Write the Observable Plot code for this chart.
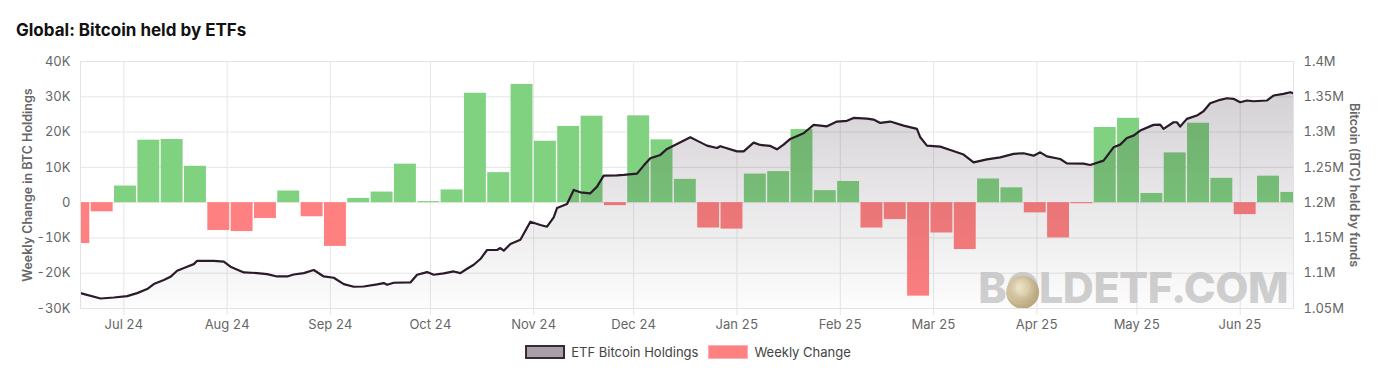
<!DOCTYPE html>
<html>
<head>
<meta charset="utf-8">
<script src="https://cdn.jsdelivr.net/npm/d3@7"></script>
<script src="https://cdn.jsdelivr.net/npm/@observablehq/plot@0.6"></script>
<style>
  body { margin: 0; background: #fff; font-family: Inter, "Noto Sans", sans-serif; }
  #wrap { position: relative; width: 1384px; height: 385px; overflow: hidden; }
  #title { position: absolute; left: 16px; top: 20px; font-size: 17px; line-height: 20px; font-weight: 700; color: #111; }
  #chart { position: absolute; left: 0; top: 45px; }
  #legend { position: absolute; left: 0; top: 344px; width: 1376px; height: 16px; display: flex; justify-content: center; align-items: center; font-size: 13px; color: #444; }
  .item { display: flex; align-items: center; margin: 0 5px; }
  .sw { width: 40px; height: 14px; box-sizing: border-box; margin-right: 6px; }
</style>
</head>
<body>
<div id="wrap">
  <div id="title">Global: Bitcoin held by ETFs</div>
  <div id="chart"></div>
  <div id="legend">
    <div class="item"><div class="sw" style="background:#a89fa8;border:2px solid #3a2a3a"></div><span>ETF Bitcoin Holdings</span></div>
    <div class="item"><div class="sw" style="background:#ff8080;border:1px solid #ffb0b0"></div><span>Weekly Change</span></div>
  </div>
</div>
<script>
// ---- Weekly change in BTC holdings (week starting) ----
const weekStart = [
  "2024-06-14","2024-06-21","2024-06-28","2024-07-05","2024-07-12","2024-07-19","2024-07-26",
  "2024-08-02","2024-08-09","2024-08-16","2024-08-23","2024-08-30","2024-09-06","2024-09-13",
  "2024-09-20","2024-09-27","2024-10-04","2024-10-11","2024-10-18","2024-10-25","2024-11-01",
  "2024-11-08","2024-11-15","2024-11-22","2024-11-29","2024-12-06","2024-12-13","2024-12-20",
  "2024-12-27","2025-01-03","2025-01-10","2025-01-17","2025-01-24","2025-01-31","2025-02-07",
  "2025-02-14","2025-02-21","2025-02-28","2025-03-07","2025-03-14","2025-03-21","2025-03-28",
  "2025-04-04","2025-04-11","2025-04-18","2025-04-25","2025-05-02","2025-05-09","2025-05-16",
  "2025-05-23","2025-05-30","2025-06-06","2025-06-13"
];
const weeklyChange = [
  -11600, -2600, 4700, 17700, 17900, 10300, -7900,
  -8200, -4500, 3300, -4000, -12400, 1200, 3000,
  10900, 300, 3600, 31000, 8500, 33500, 17400,
  21600, 24500, -850, 24600, 17800, 6600, -7200,
  -7500, 8100, 8800, 20700, 3400, 6000, -7200,
  -4800, -26500, -8600, -13300, 6700, 4200, -2900,
  -10000, -300, 21300, 23900, 2600, 14100, 22500,
  6900, -3400, 7500, 2900
];

// ---- ETF Bitcoin holdings (BTC) ----
const holdDate = [
  "2024-06-18","2024-06-24","2024-06-28","2024-07-02","2024-07-05","2024-07-08","2024-07-10","2024-07-13",
  "2024-07-15","2024-07-17","2024-07-20","2024-07-22","2024-07-23","2024-07-28","2024-07-31","2024-08-02",
  "2024-08-06","2024-08-10","2024-08-13","2024-08-16","2024-08-19","2024-08-21","2024-08-24","2024-08-27",
  "2024-08-30","2024-09-02","2024-09-05","2024-09-08","2024-09-11","2024-09-15","2024-09-17","2024-09-18",
  "2024-09-20","2024-09-25","2024-09-27","2024-09-30","2024-10-02","2024-10-05","2024-10-08","2024-10-10",
  "2024-10-12","2024-10-14","2024-10-16","2024-10-18","2024-10-21","2024-10-22","2024-10-23","2024-10-25",
  "2024-10-28","2024-10-31","2024-11-03","2024-11-05","2024-11-07","2024-11-08","2024-11-11","2024-11-13",
  "2024-11-15","2024-11-18","2024-11-20","2024-11-22","2024-11-26","2024-11-28","2024-12-02","2024-12-04",
  "2024-12-06","2024-12-09","2024-12-11","2024-12-14","2024-12-18","2024-12-20","2024-12-23","2024-12-26",
  "2024-12-27","2024-12-28","2025-01-01","2025-01-03","2025-01-06","2025-01-08","2025-01-11","2025-01-13",
  "2025-01-15","2025-01-17","2025-01-21","2025-01-24","2025-01-28","2025-01-31","2025-02-03","2025-02-05",
  "2025-02-09","2025-02-11","2025-02-13","2025-02-16","2025-02-20","2025-02-24","2025-02-25","2025-02-27",
  "2025-03-03","2025-03-06","2025-03-10","2025-03-13","2025-03-17","2025-03-21","2025-03-25","2025-03-28",
  "2025-03-31","2025-04-02","2025-04-04","2025-04-08","2025-04-10","2025-04-15","2025-04-17","2025-04-21",
  "2025-04-24","2025-04-26","2025-04-28","2025-04-30","2025-05-02","2025-05-06","2025-05-08","2025-05-09",
  "2025-05-12","2025-05-13","2025-05-14","2025-05-16","2025-05-19","2025-05-21","2025-05-23","2025-05-26",
  "2025-05-28","2025-05-30","2025-06-01","2025-06-03","2025-06-05","2025-06-09","2025-06-11","2025-06-14",
  "2025-06-16","2025-06-17"
];
const holdValue = [
  1071800,1064200,1065600,1067500,1071800,1077500,1084600,1090300,
  1094900,1103500,1109200,1112900,1117600,1117600,1116300,1109200,
  1101100,1100200,1098800,1095400,1095400,1098200,1100200,1104500,
  1095400,1093600,1084600,1080800,1081200,1084100,1086000,1083600,
  1086500,1086900,1097800,1101600,1097800,1099700,1102500,1100200,
  1106300,1112000,1120100,1132900,1132900,1135700,1131900,1141300,
  1147500,1173000,1168300,1165900,1179100,1192400,1198100,1218000,
  1214600,1213200,1222700,1238300,1238700,1239300,1241100,1252500,
  1262800,1267600,1276100,1283200,1292600,1287900,1280800,1277400,
  1280000,1278400,1272700,1272700,1285100,1281800,1280400,1275600,
  1282200,1290300,1298300,1310200,1308200,1314900,1315900,1320100,
  1319100,1317700,1313000,1314900,1309200,1304500,1292600,1280800,
  1279400,1274700,1268100,1257100,1261400,1264200,1269100,1270000,
  1266600,1271300,1265600,1261900,1255700,1255300,1253400,1259500,
  1278400,1282200,1291700,1295000,1302100,1310200,1310600,1304500,
  1313900,1313900,1307800,1318700,1323400,1329500,1340800,1345700,
  1347900,1347100,1342300,1344700,1343700,1344700,1351800,1354200,
  1356500,1355100
];

// ---- Axis ticks ----
const monthTicks = ["2024-07-01","2024-08-01","2024-09-01","2024-10-01","2024-11-01","2024-12-01",
  "2025-01-01","2025-02-01","2025-03-01","2025-04-01","2025-05-01","2025-06-01"].map(d => new Date(d));
const leftTicks = [-30000, -20000, -10000, 0, 10000, 20000, 30000, 40000];
const xDomain = [new Date("2024-06-18"), new Date("2025-06-17")];

// right axis: holdings = 1.2M + 5 * left value
const toLeft = v => (v - 1200000) / 5;

const bars = weekStart.map((d, i) => {
  const s = new Date(d);
  return { start: s, end: d3.utcDay.offset(s, 7), v: weeklyChange[i] };
});
const hold = holdDate.map((d, i) => ({ date: new Date(d), v: holdValue[i] }));

const defsMark = () => {
  const ns = "http://www.w3.org/2000/svg";
  const defs = document.createElementNS(ns, "defs");
  defs.innerHTML = `
    <linearGradient id="holdGrad" x1="0" y1="0" x2="0" y2="1">
      <stop offset="0" stop-color="#2a1a2a" stop-opacity="0.2"/>
      <stop offset="1" stop-color="#2a1a2a" stop-opacity="0.01"/>
    </linearGradient>
    <radialGradient id="coinGrad" cx="0.4" cy="0.35" r="0.7">
      <stop offset="0" stop-color="#f1e7c6"/>
      <stop offset="0.6" stop-color="#cdb88a"/>
      <stop offset="1" stop-color="#a88f5c"/>
    </radialGradient>`;
  return defs;
};

const watermarkMark = (index, scales, values, dims) => {
  const ns = "http://www.w3.org/2000/svg";
  const g = document.createElementNS(ns, "g");
  g.setAttribute("id", "wm");
  const t = document.createElementNS(ns, "text");
  t.setAttribute("x", dims.width - dims.marginRight - 5);
  t.setAttribute("y", dims.height - dims.marginBottom - 5);
  t.setAttribute("text-anchor", "end");
  t.setAttribute("font-size", "43");
  t.setAttribute("font-weight", "800");
  t.setAttribute("letter-spacing", "-0.5");
  t.setAttribute("fill", "#d2d2d2");
  t.setAttribute("font-family", "Inter, sans-serif");
  t.textContent = "BOLDETF.COM";
  g.appendChild(t);
  return g;
};

const chart = Plot.plot({
  width: 1384,
  height: 290,
  marginTop: 16,
  marginBottom: 27,
  marginLeft: 80,
  marginRight: 91,
  style: { fontFamily: "Inter, sans-serif", fontSize: "13px", background: "transparent", overflow: "visible" },
  x: { type: "utc", domain: xDomain },
  y: { domain: [-30000, 40000] },
  marks: [
    defsMark,
    Plot.ruleY(leftTicks, { stroke: "#e6e6e6" }),
    Plot.ruleX(monthTicks, { stroke: "#e6e6e6", insetBottom: -7 }),
    watermarkMark,
    Plot.rect(bars, {
      x1: "start", x2: "end", y1: () => 0, y2: "v",
      fill: d => d.v >= 0 ? "#80d180" : "#ff8080",
      insetLeft: 0.7, insetRight: 0.7, clip: true
    }),
    Plot.areaY(hold, { x: "date", y1: () => -30000, y2: d => toLeft(d.v), fill: "url(#holdGrad)", clip: true }),
    Plot.lineY(hold, { x: "date", y: d => toLeft(d.v), stroke: "#2a1a2a", strokeWidth: 2.2, clip: true }),
    Plot.axisX({ ticks: monthTicks, tickFormat: d3.utcFormat("%b %y"), tickSize: 0, tickPadding: 11, label: null, fill: "#666", fontSize: 13 }),
    Plot.axisY({ ticks: leftTicks, tickFormat: d => d === 0 ? "0" : (d / 1000) + "K", tickSize: 0, tickPadding: 10, label: null, fill: "#666", fontSize: 13 }),
    Plot.axisY({ anchor: "right", ticks: leftTicks, tickFormat: d => +((1200000 + d * 5) / 1e6).toFixed(2) + "M", tickSize: 0, tickPadding: 10, label: null, fill: "#666", fontSize: 13 }),
    Plot.text(["Weekly Change in BTC Holdings"], { text: d => d, frameAnchor: "left", textAnchor: "middle", lineAnchor: "middle", dx: -53, rotate: -90, fill: "#666", fontWeight: 600, fontSize: 12.5 }),
    Plot.text(["Bitcoin (BTC) held by funds"], { text: d => d, frameAnchor: "right", textAnchor: "middle", lineAnchor: "middle", dx: 60, rotate: 90, fill: "#666", fontWeight: 600, fontSize: 12.5 }),
    Plot.frame({ stroke: "#e3e3e3" })
  ]
});
document.getElementById("chart").appendChild(chart);

// gold coin over the "O" of the watermark
const wmText = chart.querySelector("#wm text");
if (wmText) {
  const ext = wmText.getExtentOfChar(1);
  const cx = ext.x + ext.width / 2, cy = ext.y + ext.height * 0.6;
  const c = document.createElementNS("http://www.w3.org/2000/svg", "circle");
  c.setAttribute("cx", cx); c.setAttribute("cy", cy); c.setAttribute("r", 16.5);
  c.setAttribute("fill", "url(#coinGrad)"); c.setAttribute("opacity", "0.85");
  wmText.parentNode.appendChild(c);
}
</script>
</body>
</html>
